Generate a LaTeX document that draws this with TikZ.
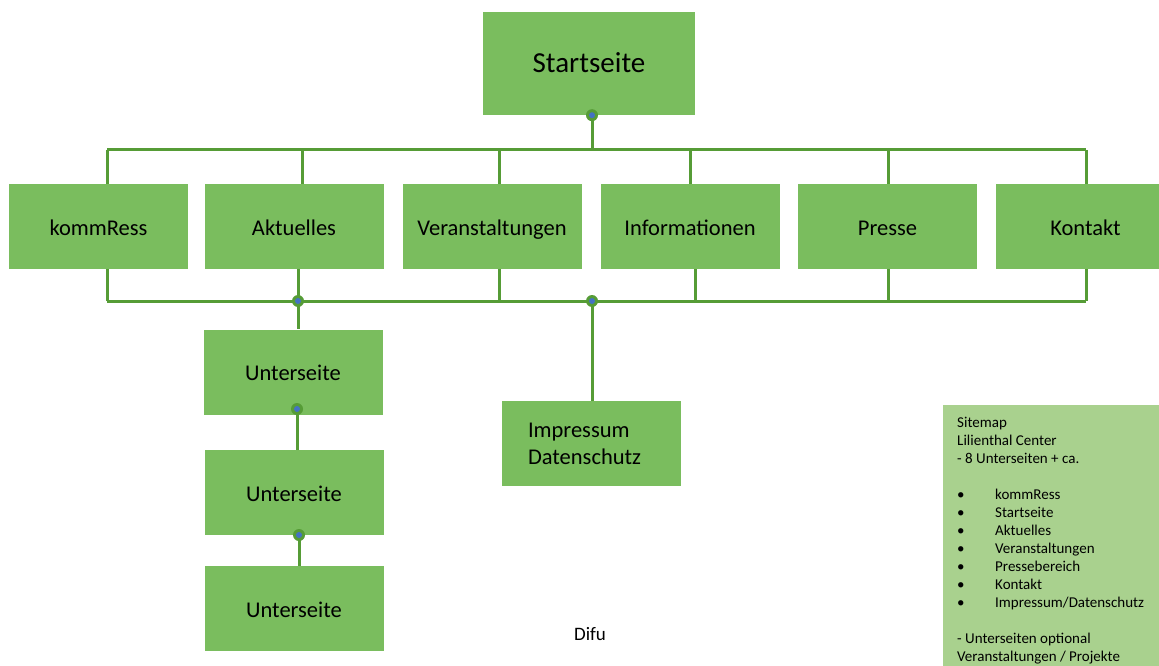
\documentclass[tikz,border=0pt]{standalone}
\usepackage{fontspec}
\setmainfont{Carlito}
\definecolor{boxgreen}{RGB}{122,189,94}
\definecolor{linegreen}{RGB}{86,156,54}
\definecolor{leggreen}{RGB}{169,209,142}
\definecolor{dotblue}{RGB}{68,114,196}
\begin{document}
\begin{tikzpicture}[x=1pt,y=-1pt,
  box/.style={draw=none,fill=boxgreen,rectangle,minimum width=179pt,minimum height=85pt,inner sep=0pt,text height=19pt,text depth=2pt,font=\fontsize{22.5}{27}\selectfont},
  conn/.style={draw=linegreen,line width=3pt},
  joint/.style={circle,fill=linegreen,minimum size=12pt,inner sep=0pt,path picture={\fill[dotblue] (path picture bounding box.center) circle (3pt);}}]
\useasboundingbox (0,0) rectangle (1159,666);
\clip (0,0) rectangle (1159,666);
% nodes
\node[box,minimum width=212pt,minimum height=103pt,text height=22pt,text depth=4pt,font=\fontsize{29}{34}\selectfont] (st) at (589,63.5) {Startseite};
\node[box] (kr) at (98.5,226.5) {kommRess};
\node[box] (ak) at (294,226.5) {Aktuelles};
\node[box] (va) at (492,226.5) {Veranstaltungen};
\node[box] (in) at (690,226.5) {Informationen};
\node[box] (pr) at (887.5,226.5) {Presse};
\node[box] (ko) at (1085.5,226.5) {Kontakt};
\node[box] (u1) at (293,372) {Unterseite};
\node[box] (u2) at (294,492.5) {Unterseite};
\node[box] (u3) at (294,608.5) {Unterseite};
\node[box,align=left,text width=126pt,inner xsep=26.5pt,inner ysep=0pt,text height=,text depth=] (im) at (591,443.5) {\raisebox{2.5pt}{\parbox{126pt}{Impressum\\Datenschutz}}};
% legend
\node[fill=leggreen,anchor=north west,minimum width=216pt,minimum height=262pt,inner sep=0pt] (leg) at (943,405) {};
\node[anchor=north west,align=left,inner sep=0pt,font=\fontsize{15}{18}\selectfont] (legtext) at (957,416.5) {Sitemap\\Lilienthal Center\\- 8 Unterseiten + ca.\\[18pt]
\makebox[38pt][l]{•}kommRess\\
\makebox[38pt][l]{•}Startseite\\
\makebox[38pt][l]{•}Aktuelles\\
\makebox[38pt][l]{•}Veranstaltungen\\
\makebox[38pt][l]{•}Pressebereich\\
\makebox[38pt][l]{•}Kontakt\\
\makebox[38pt][l]{•}Impressum/Datenschutz\\[18pt]
- Unterseiten optional\\Veranstaltungen / Projekte};
\node[font=\fontsize{19}{22}\selectfont] (difu) at (590,634) {Difu};
% bus coordinates
\coordinate (t1) at (107,150);
\coordinate (t2) at (302,150);
\coordinate (t3) at (499,150);
\coordinate (t4) at (690,150);
\coordinate (t5) at (888,150);
\coordinate (t6) at (1086,150);
\coordinate (tm) at (592,150);
\coordinate (b1) at (107,301);
\coordinate (b2) at (298,301);
\coordinate (b3) at (499,301);
\coordinate (bm) at (592,301);
\coordinate (b4) at (695,301);
\coordinate (b5) at (888,301);
\coordinate (b6) at (1086,301);
% top bus
\draw[conn] (t1) -- (t6);
\draw[conn] (st.south -| tm) -- (tm);
\foreach \t/\n in {t1/kr,t2/ak,t3/va,t4/in,t5/pr,t6/ko}
  \draw[conn] (\t) -- (\t |- \n.north);
% bottom bus
\draw[conn] (b1) -- (b6);
\foreach \b/\n in {b1/kr,b2/ak,b3/va,b4/in,b5/pr,b6/ko}
  \draw[conn] (\b |- \n.south) -- (\b);
\draw[conn] (b2) -- (b2 |- u1.north);
\draw[conn] (bm) -- (bm |- im.north);
\coordinate (d1) at (297,409);
\coordinate (d2) at (299,535);
\draw[conn] (d1) -- (d1 |- u2.north);
\draw[conn] (d2) -- (d2 |- u3.north);
% joints
\node[joint] (j0) at (st.south -| tm) {};
\node[joint] (j1) at (b2) {};
\node[joint] (j2) at (bm) {};
\node[joint] (j3) at (d1) {};
\node[joint] (j4) at (d2) {};
\end{tikzpicture}
\end{document}
